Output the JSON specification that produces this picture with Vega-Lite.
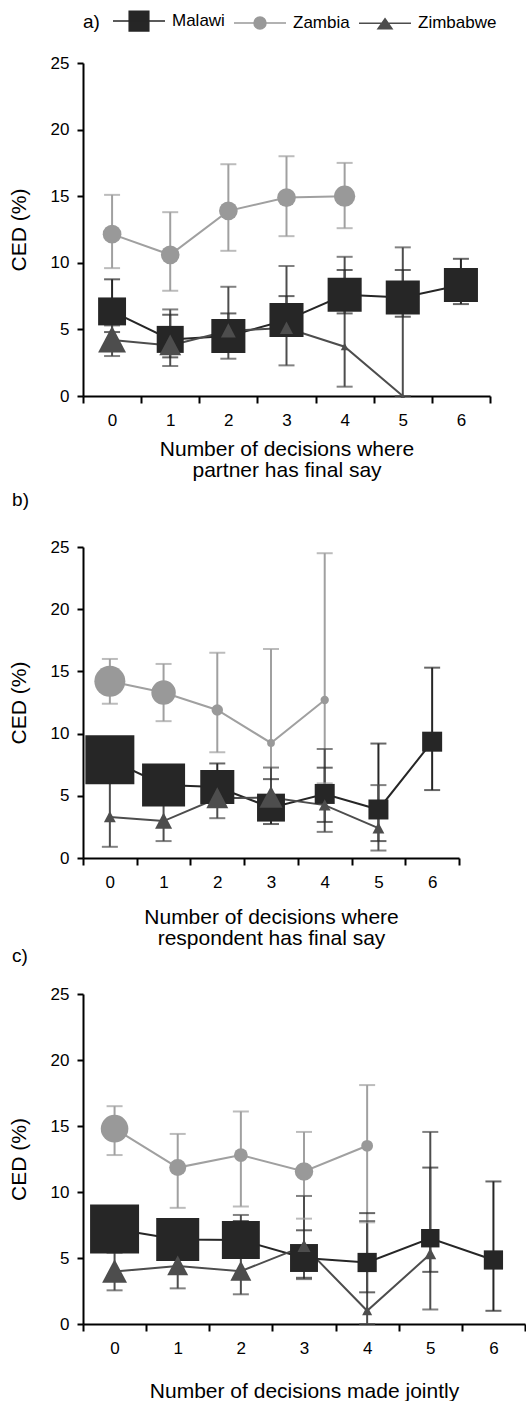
{
  "$schema": "https://vega.github.io/schema/vega-lite/v6.json",
  "background": "white",
  "padding": {"left": 8, "top": 10, "right": 0, "bottom": 0},
  "config": {
    "font": "Liberation Sans",
    "view": {"stroke": null},
    "axis": {"labelFontSize": 17, "labelColor": "black", "titleColor": "black", "titleFontWeight": "normal", "titleFontSize": 21, "domainColor": "black", "domainWidth": 2, "tickColor": "black", "tickWidth": 2, "grid": false},
    "axisX": {"tickBand": "extent", "labelAngle": 0, "tickSize": 7, "labelPadding": 9, "titleLineHeight": 21},
    "axisY": {"tickSize": 6, "labelPadding": 8, "titlePadding": 21},
    "title": {"fontSize": 19, "fontWeight": "normal", "color": "black", "anchor": "start", "frame": "bounds", "dx": 4}
  },
  "resolve": {
    "scale": {"color": "independent", "size": "independent", "shape": "shared"},
    "legend": {"shape": "shared"}
  },
  "datasets": {
    "ced": [
      {"panel": "a", "series": "Malawi", "x": 0, "y": 6.35, "lo": 4.8, "hi": 8.76, "n": 78},
      {"panel": "a", "series": "Malawi", "x": 1, "y": 4.25, "lo": 2.9, "hi": 6.1, "n": 73},
      {"panel": "a", "series": "Malawi", "x": 2, "y": 4.5, "lo": 3.4, "hi": 6.2, "n": 116},
      {"panel": "a", "series": "Malawi", "x": 3, "y": 5.7, "lo": 4.6, "hi": 7.5, "n": 116},
      {"panel": "a", "series": "Malawi", "x": 4, "y": 7.6, "lo": 6.2, "hi": 9.46, "n": 116},
      {"panel": "a", "series": "Malawi", "x": 5, "y": 7.4, "lo": 5.95, "hi": 9.46, "n": 116},
      {"panel": "a", "series": "Malawi", "x": 6, "y": 8.33, "lo": 6.9, "hi": 10.3, "n": 116},
      {"panel": "a", "series": "Zambia", "x": 0, "y": 12.15, "lo": 9.6, "hi": 15.1, "n": 35},
      {"panel": "a", "series": "Zambia", "x": 1, "y": 10.6, "lo": 7.9, "hi": 13.8, "n": 35},
      {"panel": "a", "series": "Zambia", "x": 2, "y": 13.9, "lo": 10.9, "hi": 17.4, "n": 35},
      {"panel": "a", "series": "Zambia", "x": 3, "y": 14.9, "lo": 12.0, "hi": 18.0, "n": 35},
      {"panel": "a", "series": "Zambia", "x": 4, "y": 15.0, "lo": 12.6, "hi": 17.5, "n": 45},
      {"panel": "a", "series": "Zimbabwe", "x": 0, "y": 4.2, "lo": 3.0, "hi": 5.3, "n": 78},
      {"panel": "a", "series": "Zimbabwe", "x": 1, "y": 3.8, "lo": 2.25, "hi": 6.5, "n": 48},
      {"panel": "a", "series": "Zimbabwe", "x": 2, "y": 4.9, "lo": 2.8, "hi": 8.2, "n": 22},
      {"panel": "a", "series": "Zimbabwe", "x": 3, "y": 5.1, "lo": 2.3, "hi": 9.76, "n": 17},
      {"panel": "a", "series": "Zimbabwe", "x": 4, "y": 3.7, "lo": 0.7, "hi": 10.45, "n": 6},
      {"panel": "a", "series": "Zimbabwe", "x": 5, "y": 0, "lo": 0, "hi": 11.16, "n": 2},
      {"panel": "b", "series": "Malawi", "x": 0, "y": 7.9, "lo": 6.2, "hi": 9.6, "n": 240},
      {"panel": "b", "series": "Malawi", "x": 1, "y": 5.87, "lo": 4.6, "hi": 7.3, "n": 185},
      {"panel": "b", "series": "Malawi", "x": 2, "y": 5.7, "lo": 4.5, "hi": 7.6, "n": 116},
      {"panel": "b", "series": "Malawi", "x": 3, "y": 4.05, "lo": 2.73, "hi": 6.34, "n": 78},
      {"panel": "b", "series": "Malawi", "x": 4, "y": 5.15, "lo": 2.9, "hi": 7.26, "n": 40},
      {"panel": "b", "series": "Malawi", "x": 5, "y": 3.9, "lo": 1.36, "hi": 9.2, "n": 40},
      {"panel": "b", "series": "Malawi", "x": 6, "y": 9.35, "lo": 5.46, "hi": 15.3, "n": 40},
      {"panel": "b", "series": "Zambia", "x": 0, "y": 14.2, "lo": 12.4, "hi": 16.0, "n": 96},
      {"panel": "b", "series": "Zambia", "x": 1, "y": 13.3, "lo": 11.0, "hi": 15.6, "n": 60},
      {"panel": "b", "series": "Zambia", "x": 2, "y": 11.9, "lo": 8.5, "hi": 16.5, "n": 13},
      {"panel": "b", "series": "Zambia", "x": 3, "y": 9.25, "lo": 4.6, "hi": 16.8, "n": 6},
      {"panel": "b", "series": "Zambia", "x": 4, "y": 12.7, "lo": 6.0, "hi": 24.5, "n": 7},
      {"panel": "b", "series": "Zimbabwe", "x": 0, "y": 3.3, "lo": 0.9, "hi": 6.5, "n": 14},
      {"panel": "b", "series": "Zimbabwe", "x": 1, "y": 2.97, "lo": 1.36, "hi": 5.0, "n": 29},
      {"panel": "b", "series": "Zimbabwe", "x": 2, "y": 4.8, "lo": 3.2, "hi": 6.5, "n": 48},
      {"panel": "b", "series": "Zimbabwe", "x": 3, "y": 4.87, "lo": 3.1, "hi": 7.27, "n": 53},
      {"panel": "b", "series": "Zimbabwe", "x": 4, "y": 4.25, "lo": 2.1, "hi": 8.76, "n": 14},
      {"panel": "b", "series": "Zimbabwe", "x": 5, "y": 2.4, "lo": 0.6, "hi": 5.86, "n": 14},
      {"panel": "c", "series": "Malawi", "x": 0, "y": 7.2, "lo": 5.6, "hi": 8.9, "n": 240},
      {"panel": "c", "series": "Malawi", "x": 1, "y": 6.4, "lo": 4.9, "hi": 7.8, "n": 185},
      {"panel": "c", "series": "Malawi", "x": 2, "y": 6.36, "lo": 5.0, "hi": 7.8, "n": 144},
      {"panel": "c", "series": "Malawi", "x": 3, "y": 5.0, "lo": 3.5, "hi": 7.1, "n": 78},
      {"panel": "c", "series": "Malawi", "x": 4, "y": 4.66, "lo": 2.4, "hi": 8.4, "n": 37},
      {"panel": "c", "series": "Malawi", "x": 5, "y": 6.5, "lo": 3.95, "hi": 11.85, "n": 34},
      {"panel": "c", "series": "Malawi", "x": 6, "y": 4.85, "lo": 1.0, "hi": 10.8, "n": 37},
      {"panel": "c", "series": "Zambia", "x": 0, "y": 14.8, "lo": 12.8, "hi": 16.5, "n": 76},
      {"panel": "c", "series": "Zambia", "x": 1, "y": 11.85, "lo": 8.8, "hi": 14.4, "n": 29},
      {"panel": "c", "series": "Zambia", "x": 2, "y": 12.8, "lo": 8.9, "hi": 16.1, "n": 19},
      {"panel": "c", "series": "Zambia", "x": 3, "y": 11.55, "lo": 7.98, "hi": 14.55, "n": 34},
      {"panel": "c", "series": "Zambia", "x": 4, "y": 13.5, "lo": 7.7, "hi": 18.1, "n": 14},
      {"panel": "c", "series": "Zimbabwe", "x": 0, "y": 3.97, "lo": 2.55, "hi": 5.4, "n": 62},
      {"panel": "c", "series": "Zimbabwe", "x": 1, "y": 4.4, "lo": 2.7, "hi": 5.6, "n": 44},
      {"panel": "c", "series": "Zimbabwe", "x": 2, "y": 4.0, "lo": 2.25, "hi": 8.26, "n": 44},
      {"panel": "c", "series": "Zimbabwe", "x": 3, "y": 5.9, "lo": 3.4, "hi": 9.7, "n": 17},
      {"panel": "c", "series": "Zimbabwe", "x": 4, "y": 1.0, "lo": 0, "hi": 7.8, "n": 10},
      {"panel": "c", "series": "Zimbabwe", "x": 5, "y": 5.3, "lo": 1.1, "hi": 14.55, "n": 14}
    ]
  },
  "spacing": 11,
  "vconcat": [
    {
      "width": 407, "height": 333,
      "data": {"name": "ced"},
      "transform": [{"filter": "datum.panel == 'a'"}],
      "encoding": {
        "x": {"field": "x", "type": "ordinal", "title": ["Number of decisions where", "partner has final say"], "scale": {"type": "band", "domain": [0,1,2,3,4,5,6], "paddingInner": 0, "paddingOuter": 0}, "axis": {"titlePadding": 10}},
        "y": {"field": "y", "type": "quantitative", "title": "CED (%)", "scale": {"domain": [0, 25], "nice": false}, "axis": {"values": [0,5,10,15,20,25]}}
      },
      "layer": [
        {"mark": {"type": "rule", "strokeWidth": 2}, "encoding": {"y": {"field": "lo", "type": "quantitative", "title": "CED (%)", "scale": {"domain": [0, 25], "nice": false}}, "y2": {"field": "hi"}, "color": {"field": "series", "type": "nominal", "scale": {"domain": ["Malawi","Zambia","Zimbabwe"], "range": ["#262626","#a0a0a0","#4d4d4d"]}, "legend": null}}},
        {"mark": {"type": "tick", "size": 16, "thickness": 2}, "encoding": {"y": {"field": "lo", "type": "quantitative", "title": "CED (%)", "scale": {"domain": [0, 25], "nice": false}}, "color": {"field": "series", "type": "nominal", "legend": null}}},
        {"mark": {"type": "tick", "size": 16, "thickness": 2}, "encoding": {"y": {"field": "hi", "type": "quantitative", "title": "CED (%)", "scale": {"domain": [0, 25], "nice": false}}, "color": {"field": "series", "type": "nominal", "legend": null}}},
        {"mark": {"type": "line", "strokeWidth": 2}, "encoding": {"color": {"field": "series", "type": "nominal", "legend": null}}},
        {"transform": [{"filter": "datum.series == 'Malawi'"}], "mark": {"type": "point", "shape": "square", "filled": true, "opacity": 1, "color": "#262626"}, "encoding": {"size": {"field": "n", "type": "quantitative", "scale": {"domain": [0, 250], "range": [0, 2500]}, "legend": null}}},
        {"transform": [{"filter": "datum.series == 'Zambia'"}], "mark": {"type": "point", "shape": "circle", "filled": true, "opacity": 1, "color": "#999999"}, "encoding": {"size": {"field": "n", "type": "quantitative", "legend": null}}},
        {"transform": [{"filter": "datum.series == 'Zimbabwe'"}], "mark": {"type": "point", "shape": "M0,-1L1,0.9L-1,0.9Z", "filled": true, "opacity": 1, "color": "#4d4d4d"}, "encoding": {"size": {"field": "n", "type": "quantitative", "legend": null}}},
        {
          "mark": {"type": "point", "filled": true, "opacity": 0},
          "encoding": {
            "shape": {"field": "series", "type": "nominal",
              "scale": {"domain": ["Malawi","Zambia","Zimbabwe"], "range": ["M-2.6,0H2.6M-0.98,-0.98H0.98V0.98H-0.98Z", "M-2.6,0H2.6M0.6,0A0.6,0.6,0,1,1,-0.6,0A0.6,0.6,0,1,1,0.6,0Z", "M-2.6,0H2.6M0,-0.45L0.7,0.55L-0.7,0.55Z"]},
              "legend": {
                "orient": "top", "offset": 20, "direction": "horizontal",
                "title": "a)", "titleOrient": "left", "titleFontSize": 19, "titleFontWeight": "normal", "titleColor": "black", "titlePadding": 12, "titleAnchor": "middle", "titleBaseline": "middle",
                "symbolSize": 400, "symbolOffset": 16, "symbolStrokeWidth": 1.5, "symbolOpacity": 1,
                "labelFontSize": 17, "labelColor": "black", "labelOffset": 22, "columnPadding": 6,
                "encoding": {"symbols": {
                  "fill": {"value": {"expr": "datum.value === 'Zambia' ? '#999999' : datum.value === 'Zimbabwe' ? '#4d4d4d' : '#262626'"}},
                  "stroke": {"value": {"expr": "datum.value === 'Zambia' ? '#999999' : datum.value === 'Zimbabwe' ? '#4d4d4d' : '#262626'"}},
                  "opacity": {"value": 1}
                }}
              }
            }
          }
        }
      ]
    },
    {
      "spacing": -1,
      "vconcat": [
        {
          "width": 376, "height": 311,
          "title": {"text": "b)", "offset": 28},
          "data": {"name": "ced"},
          "transform": [{"filter": "datum.panel == 'b'"}],
          "encoding": {
            "x": {"field": "x", "type": "ordinal", "title": ["Number of decisions where", "respondent has final say"], "scale": {"type": "band", "domain": [0,1,2,3,4,5,6], "paddingInner": 0, "paddingOuter": 0}, "axis": {"titlePadding": 16}},
            "y": {"field": "y", "type": "quantitative", "title": "CED (%)", "scale": {"domain": [0, 25], "nice": false}, "axis": {"values": [0,5,10,15,20,25]}}
          },
          "layer": [
            {"mark": {"type": "rule", "strokeWidth": 2}, "encoding": {"y": {"field": "lo", "type": "quantitative", "title": "CED (%)", "scale": {"domain": [0, 25], "nice": false}}, "y2": {"field": "hi"}, "color": {"field": "series", "type": "nominal", "scale": {"domain": ["Malawi","Zambia","Zimbabwe"], "range": ["#262626","#a0a0a0","#4d4d4d"]}, "legend": null}}},
            {"mark": {"type": "tick", "size": 16, "thickness": 2}, "encoding": {"y": {"field": "lo", "type": "quantitative", "title": "CED (%)", "scale": {"domain": [0, 25], "nice": false}}, "color": {"field": "series", "type": "nominal", "legend": null}}},
            {"mark": {"type": "tick", "size": 16, "thickness": 2}, "encoding": {"y": {"field": "hi", "type": "quantitative", "title": "CED (%)", "scale": {"domain": [0, 25], "nice": false}}, "color": {"field": "series", "type": "nominal", "legend": null}}},
            {"mark": {"type": "line", "strokeWidth": 2}, "encoding": {"color": {"field": "series", "type": "nominal", "legend": null}}},
            {"transform": [{"filter": "datum.series == 'Malawi'"}], "mark": {"type": "point", "shape": "square", "filled": true, "opacity": 1, "color": "#262626"}, "encoding": {"size": {"field": "n", "type": "quantitative", "scale": {"domain": [0, 250], "range": [0, 2500]}, "legend": null}}},
            {"transform": [{"filter": "datum.series == 'Zambia'"}], "mark": {"type": "point", "shape": "circle", "filled": true, "opacity": 1, "color": "#999999"}, "encoding": {"size": {"field": "n", "type": "quantitative", "legend": null}}},
            {"transform": [{"filter": "datum.series == 'Zimbabwe'"}], "mark": {"type": "point", "shape": "M0,-1L1,0.9L-1,0.9Z", "filled": true, "opacity": 1, "color": "#4d4d4d"}, "encoding": {"size": {"field": "n", "type": "quantitative", "legend": null}}}
          ]
        },
        {
          "width": 442, "height": 330,
          "title": {"text": "c)", "offset": 19},
          "data": {"name": "ced"},
          "transform": [{"filter": "datum.panel == 'c'"}],
          "encoding": {
            "x": {"field": "x", "type": "ordinal", "title": "Number of decisions made jointly", "scale": {"type": "band", "domain": [0,1,2,3,4,5,6], "paddingInner": 0, "paddingOuter": 0}, "axis": {"titlePadding": 24}},
            "y": {"field": "y", "type": "quantitative", "title": "CED (%)", "scale": {"domain": [0, 25], "nice": false}, "axis": {"values": [0,5,10,15,20,25]}}
          },
          "layer": [
            {"mark": {"type": "rule", "strokeWidth": 2}, "encoding": {"y": {"field": "lo", "type": "quantitative", "title": "CED (%)", "scale": {"domain": [0, 25], "nice": false}}, "y2": {"field": "hi"}, "color": {"field": "series", "type": "nominal", "scale": {"domain": ["Malawi","Zambia","Zimbabwe"], "range": ["#262626","#a0a0a0","#4d4d4d"]}, "legend": null}}},
            {"mark": {"type": "tick", "size": 16, "thickness": 2}, "encoding": {"y": {"field": "lo", "type": "quantitative", "title": "CED (%)", "scale": {"domain": [0, 25], "nice": false}}, "color": {"field": "series", "type": "nominal", "legend": null}}},
            {"mark": {"type": "tick", "size": 16, "thickness": 2}, "encoding": {"y": {"field": "hi", "type": "quantitative", "title": "CED (%)", "scale": {"domain": [0, 25], "nice": false}}, "color": {"field": "series", "type": "nominal", "legend": null}}},
            {"mark": {"type": "line", "strokeWidth": 2}, "encoding": {"color": {"field": "series", "type": "nominal", "legend": null}}},
            {"transform": [{"filter": "datum.series == 'Malawi'"}], "mark": {"type": "point", "shape": "square", "filled": true, "opacity": 1, "color": "#262626"}, "encoding": {"size": {"field": "n", "type": "quantitative", "scale": {"domain": [0, 250], "range": [0, 2500]}, "legend": null}}},
            {"transform": [{"filter": "datum.series == 'Zambia'"}], "mark": {"type": "point", "shape": "circle", "filled": true, "opacity": 1, "color": "#999999"}, "encoding": {"size": {"field": "n", "type": "quantitative", "legend": null}}},
            {"transform": [{"filter": "datum.series == 'Zimbabwe'"}], "mark": {"type": "point", "shape": "M0,-1L1,0.9L-1,0.9Z", "filled": true, "opacity": 1, "color": "#4d4d4d"}, "encoding": {"size": {"field": "n", "type": "quantitative", "legend": null}}}
          ]
        }
      ]
    }
  ]
}
